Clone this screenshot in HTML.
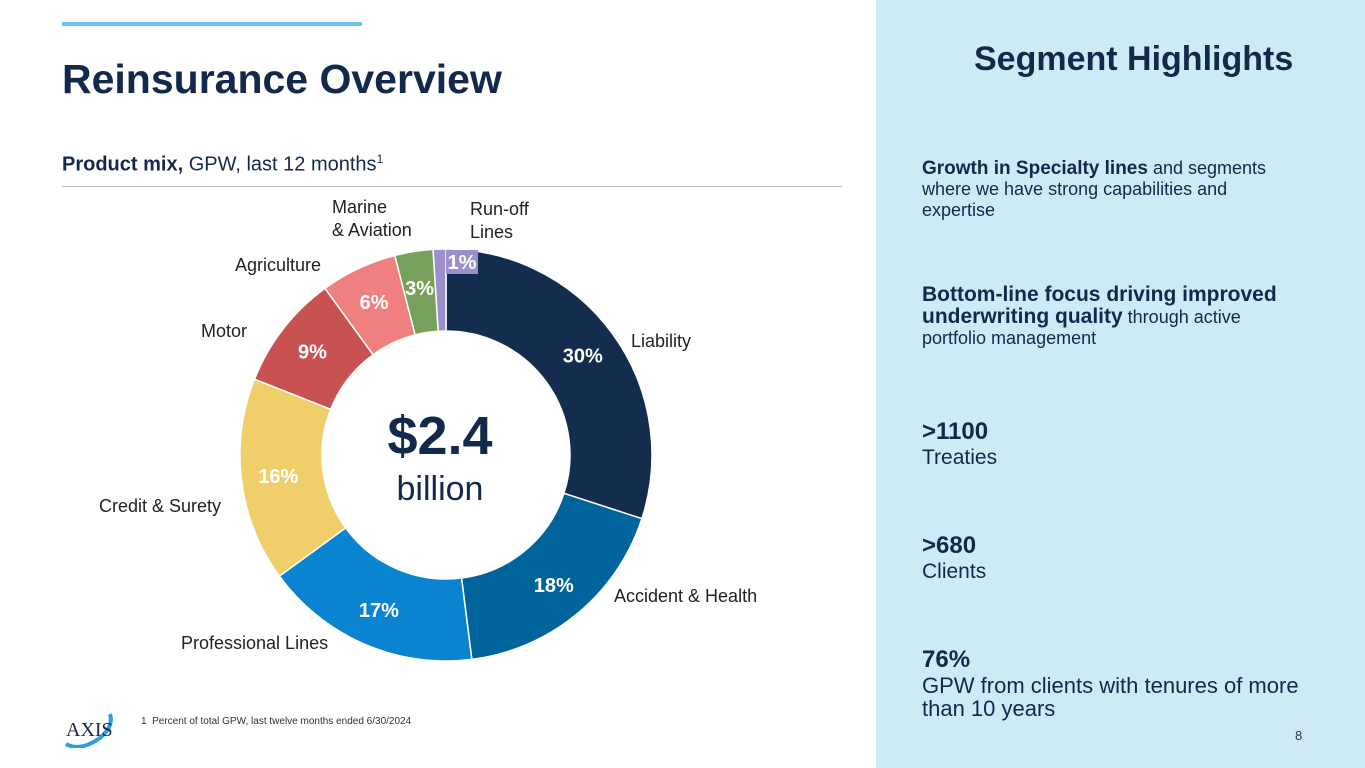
<!DOCTYPE html>
<html><head><meta charset="utf-8"><style>
body{margin:0;width:1365px;height:768px;overflow:hidden;background:#fff;font-family:"Liberation Sans",sans-serif;position:relative}
.abs{position:absolute}
.side{left:876px;top:0;width:489px;height:768px;background:#cdeaf6}
.h{color:#13294b}
.st{font-size:18px;color:#13294b;line-height:21px}
.sb{font-size:24px;font-weight:bold;color:#13294b}
.lbl{font-size:18px;color:#222;line-height:23px;white-space:nowrap}
</style></head><body>
<div class="abs" style="left:62px;top:22px;width:300px;height:4px;background:#6cc0ea"></div>
<div class="abs h" style="left:62px;top:56px;font-size:41px;font-weight:bold">Reinsurance Overview</div>
<div class="abs" style="left:62px;top:152px;font-size:20px;color:#13294b"><b>Product mix,</b> GPW, last 12 months<sup style="font-size:12px">1</sup></div>
<div class="abs" style="left:62px;top:186px;width:780px;height:1px;background:#bbb"></div>
<svg class="abs" style="left:0;top:0" width="870" height="700" id="chart"></svg>
<div class="abs lbl" style="left:631px;top:330px">Liability</div>
<div class="abs lbl" style="left:614px;top:585px">Accident &amp; Health</div>
<div class="abs lbl" style="left:181px;top:632px">Professional Lines</div>
<div class="abs lbl" style="left:99px;top:495px">Credit &amp; Surety</div>
<div class="abs lbl" style="left:201px;top:320px">Motor</div>
<div class="abs lbl" style="left:235px;top:254px">Agriculture</div>
<div class="abs lbl" style="left:332px;top:196px">Marine<br>&amp; Aviation</div>
<div class="abs lbl" style="left:470px;top:198px">Run-off<br>Lines</div>
<div class="abs h" style="left:340px;top:405px;width:200px;text-align:center;font-size:54px;font-weight:bold">$2.4</div>
<div class="abs h" style="left:340px;top:470px;width:200px;text-align:center;font-size:34px;color:#13294b">billion</div>
<div class="abs" style="left:60px;top:708px;width:60px;height:40px">
<svg width="60" height="40"><path d="M6 36 Q20 44 40 30 Q54 18 50 6" stroke="#2aa0dc" stroke-width="4" fill="none"/><text x="6" y="28" font-family="Liberation Serif,serif" font-size="20" fill="#13294b">AXIS</text></svg></div>
<div class="abs" style="left:141px;top:716px;font-size:10px;color:#333">1&nbsp;&nbsp;Percent of total GPW, last twelve months ended 6/30/2024</div>
<div class="abs side"></div>
<div class="abs h" style="left:974px;top:40px;font-size:34px;font-weight:bold">Segment Highlights</div>
<div class="abs st" style="left:922px;top:158px;width:380px"><b style="font-size:19px">Growth in Specialty lines</b> and segments where we have strong capabilities and expertise</div>
<div class="abs st" style="left:922px;top:284px;width:380px"><b style="font-size:21px">Bottom-line focus driving improved underwriting quality</b> through active portfolio management</div>
<div class="abs" style="left:922px;top:418px"><div class="sb">&gt;1100</div><div style="font-size:21px;color:#13294b">Treaties</div></div>
<div class="abs" style="left:922px;top:532px"><div class="sb">&gt;680</div><div style="font-size:21px;color:#13294b">Clients</div></div>
<div class="abs" style="left:922px;top:646px"><div class="sb">76%</div><div style="font-size:22px;color:#13294b;line-height:23px">GPW from clients with tenures of more<br>than 10 years</div></div>
<div class="abs" style="left:1295px;top:728px;font-size:13px;color:#333">8</div>
<script>
const categories=["Liability","Accident & Health","Professional Lines","Credit & Surety","Motor","Agriculture","Marine & Aviation","Run-off Lines"];
const values=[30,18,17,16,9,6,3,1];
const colors=["#142d4f","#00649c","#0a84d0","#f0cf6a","#c85252","#f08080","#77a05a","#9b8fcc"];
const svg=document.getElementById('chart');const NS="http://www.w3.org/2000/svg";
const cx=446,cy=455,R=206,r=124;
const total=values.reduce((a,b)=>a+b,0);
function pt(a,rad){return [cx+rad*Math.sin(a),cy-rad*Math.cos(a)];}
let a0=0;
values.forEach((v,i)=>{
const a1=a0+v/total*2*Math.PI;const lg=(a1-a0)>Math.PI?1:0;
const p1=pt(a0,R),p2=pt(a1,R),p3=pt(a1,r),p4=pt(a0,r);
const p=document.createElementNS(NS,'path');
p.setAttribute('d',`M${p1}L${p1}A${R},${R} 0 ${lg} 1 ${p2}L${p3}A${r},${r} 0 ${lg} 0 ${p4}Z`);
p.setAttribute('fill',colors[i]);p.setAttribute('stroke','#fff');p.setAttribute('stroke-width','1.5');


svg.appendChild(p);
const am=(a0+a1)/2;let lp=pt(am,(R+r)/2+4);
if(v<2){lp=[cx+14,262];const b=document.createElementNS(NS,'rect');b.setAttribute('x',lp[0]-14);b.setAttribute('y',250);b.setAttribute('width',32);b.setAttribute('height',24);b.setAttribute('fill',colors[i]);


svg.appendChild(b);lp=[lp[0]+2,262];}
const t=document.createElementNS(NS,'text');t.setAttribute('x',lp[0]);t.setAttribute('y',lp[1]+7);t.setAttribute('text-anchor','middle');
t.setAttribute('font-size','20');t.setAttribute('font-weight','bold');t.setAttribute('fill','#fff');t.setAttribute('font-family','Liberation Sans, sans-serif');
t.textContent=v+'%';


svg.appendChild(t);
a0=a1;});
</script>
</body></html>
